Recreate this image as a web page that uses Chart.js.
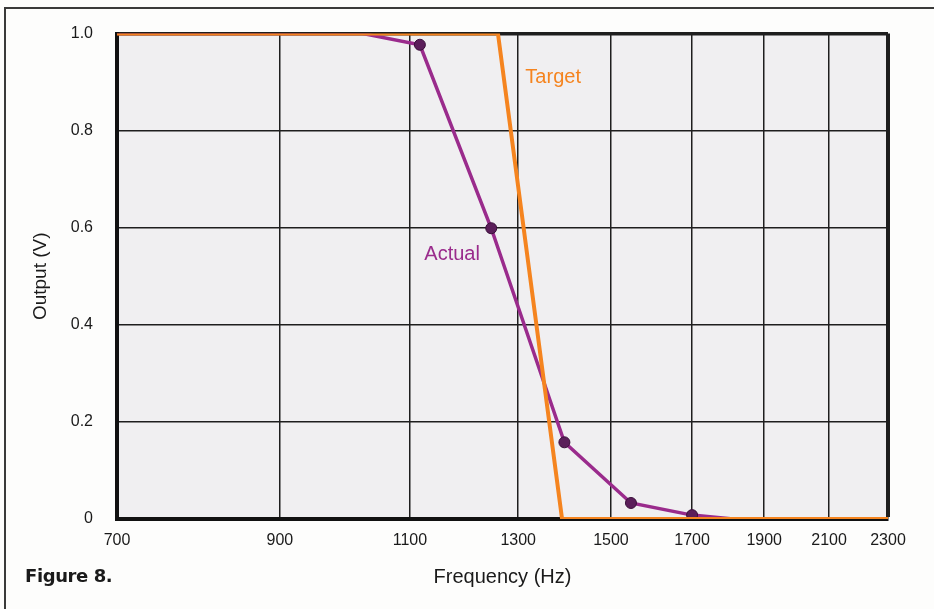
<!DOCTYPE html>
<html>
<head>
<meta charset="utf-8">
<script src="https://cdn.jsdelivr.net/npm/chart.js@4/dist/chart.umd.min.js"></script>
<style>
  body { margin: 0; background: #fdfdfc; }
  #wrap { position: relative; width: 934px; height: 609px; overflow: hidden; }
  #frame { position: absolute; left: 4px; top: 7px; width: 940px; height: 610px;
           border-left: 2px solid #3a3a3a; border-top: 2px solid #3a3a3a; }
  #fig { position: absolute; left: 25px; top: 565px; font: 900 18px "DejaVu Sans", sans-serif;
         color: #1a1a1a; letter-spacing: -0.4px; }
  canvas { position: absolute; left: 0; top: 0; }
</style>
</head>
<body>
<div id="wrap">
  <div id="frame"></div>
  <canvas id="filter-chart" width="934" height="609"></canvas>
  <div id="fig">Figure 8.</div>
</div>
<script>
// tick labels
const freqTicks = [700, 900, 1100, 1300, 1500, 1700, 1900, 2100, 2300]
const outTicks = [0, 0.2, 0.4, 0.6, 0.8, 1.0]

// target response
const targetFreq = [700, 1260, 1391, 2300]
const targetOut = [1.0, 1.0, 0, 0]

// measured response
const actualFreq = [700, 1023, 1117, 1247, 1396, 1547, 1700, 1811, 2300]
const actualOut = [1.0, 1.0, 0.977, 0.599, 0.158, 0.033, 0.008, 0, 0]
const measuredFreq = [1117, 1247, 1396, 1547, 1700]

const FONT = '"Liberation Sans", Arial, sans-serif'
const ORANGE = '#f5841f'
const PURPLE = '#9a2b8c'

const toPoints = (xs, ys) => xs.map((x, i) => ({ x: x, y: ys[i] }))

const plotBackground = {
    id: 'plotBackground',
    beforeDraw(chart) {
        const { ctx, chartArea: a } = chart
        ctx.save()
        ctx.fillStyle = '#f0eff1'
        ctx.fillRect(a.left, a.top, a.right - a.left, a.bottom - a.top)
        ctx.restore()
    }
}

const curveLabels = {
    id: 'curveLabels',
    afterDatasetsDraw(chart) {
        const { ctx, scales } = chart
        const notes = [
            { text: 'Target', x: 1372, y: 0.909, color: ORANGE },
            { text: 'Actual', x: 1174, y: 0.545, color: PURPLE },
        ]
        ctx.save()
        ctx.font = '20px ' + FONT
        ctx.textAlign = 'center'
        ctx.textBaseline = 'middle'
        notes.forEach(n => {
            ctx.fillStyle = n.color
            ctx.fillText(n.text, scales.x.getPixelForValue(n.x), scales.y.getPixelForValue(n.y))
        })
        ctx.restore()
    }
}

const ctx = document.getElementById('filter-chart').getContext('2d')

new Chart(ctx, {
    type: 'line',
    data: {
        datasets: [
            {
                label: 'Target',
                data: toPoints(targetFreq, targetOut),
                borderColor: ORANGE,
                borderWidth: 4,
                pointRadius: 0,
                tension: 0,
            },
            {
                label: 'Actual',
                data: toPoints(actualFreq, actualOut),
                borderColor: PURPLE,
                borderWidth: 3.5,
                tension: 0,
                pointRadius: c => measuredFreq.includes(actualFreq[c.dataIndex]) ? 5.5 : 0,
                pointBackgroundColor: '#5b1e5a',
                pointBorderColor: '#3a0f3a',
                pointBorderWidth: 1,
            },
        ]
    },
    options: {
        responsive: false,
        animation: false,
        layout: { padding: { top: 33, right: 46, left: 0, bottom: 0 } },
        plugins: {
            legend: { display: false },
            tooltip: { enabled: false },
        },
        scales: {
            x: {
                type: 'logarithmic',
                min: 700,
                max: 2300,
                afterBuildTicks: s => { s.ticks = freqTicks.map(v => ({ value: v })) },
                afterFit: s => { s.height = 90 },
                ticks: {
                    autoSkip: false,
                    maxRotation: 0,
                    padding: 12,
                    color: '#1a1a1a',
                    font: { family: FONT, size: 16 },
                    callback: v => String(v),
                },
                grid: {
                    drawTicks: false,
                    color: '#1e1e1e',
                    lineWidth: c => c.tick && c.tick.value === 2300 ? 4 : 1.5,
                },
                border: { color: '#111', width: 4 },
                title: {
                    display: true,
                    text: 'Frequency (Hz)',
                    color: '#1a1a1a',
                    font: { family: FONT, size: 20 },
                    padding: { bottom: 20 },
                },
            },
            y: {
                min: 0,
                max: 1,
                afterBuildTicks: s => { s.ticks = outTicks.map(v => ({ value: v })) },
                afterFit: s => { s.width = 117 },
                ticks: {
                    padding: 24,
                    color: '#1a1a1a',
                    font: { family: FONT, size: 16 },
                    callback: v => v === 0 ? '0' : v.toFixed(1),
                },
                grid: {
                    drawTicks: false,
                    color: '#1e1e1e',
                    lineWidth: c => c.tick && c.tick.value === 1 ? 3.5 : 1.5,
                },
                border: { color: '#111', width: 4 },
                title: {
                    display: true,
                    text: 'Output (V)',
                    color: '#1a1a1a',
                    font: { family: FONT, size: 19 },
                    padding: { top: 29 },
                },
            },
        },
    },
    plugins: [plotBackground, curveLabels],
})
</script>
</body>
</html>
